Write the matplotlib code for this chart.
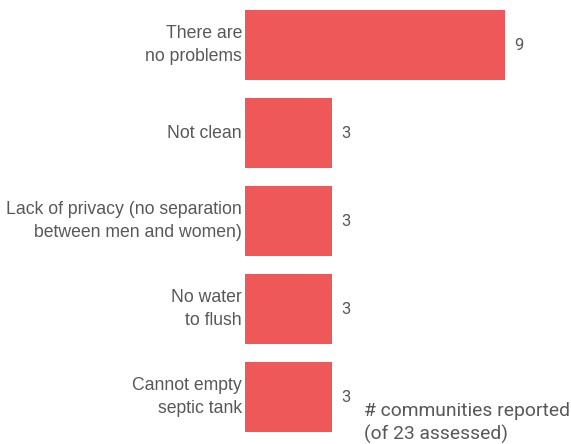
import matplotlib
matplotlib.use("Agg")
import matplotlib.pyplot as plt

categories = ["There are\nno problems", "Not clean",
              "Lack of privacy (no separation\nbetween men and women)",
              "No water\nto flush", "Cannot empty\nseptic tank"]
values = [9, 3, 3, 3, 3]
note = "# communities reported\n(of 23 assessed)"

bar_color = "#EE5859"
text_color = "#58585A"

fig = plt.figure(figsize=(5.71, 4.44), dpi=100)
ax = fig.add_axes([245 / 571, 0, 326 / 571, 1])

pos = list(range(len(categories)))
ax.barh(pos, values, height=70 / 88, color=bar_color)
ax.set_xlim(0, 326 / (260 / 9))
ax.set_ylim((444 - 45) / 88, -45 / 88)
ax.axis("off")

for p, v, c in zip(pos, values, categories):
    ax.text(v + 0.32, p, str(v), va="center", ha="left", fontsize=12,
            color=text_color, family="Roboto")
    ax.text(-0.1, p, c, va="center", ha="right", fontsize=12.7,
            color=text_color, family="Liberation Sans", linespacing=1.42)

fig.text(364 / 571, 1 - 423 / 444, note, va="center", ha="left", fontsize=13.9,
         color=text_color, family="Roboto", linespacing=1.3)

fig.savefig("out.png", dpi=100)
